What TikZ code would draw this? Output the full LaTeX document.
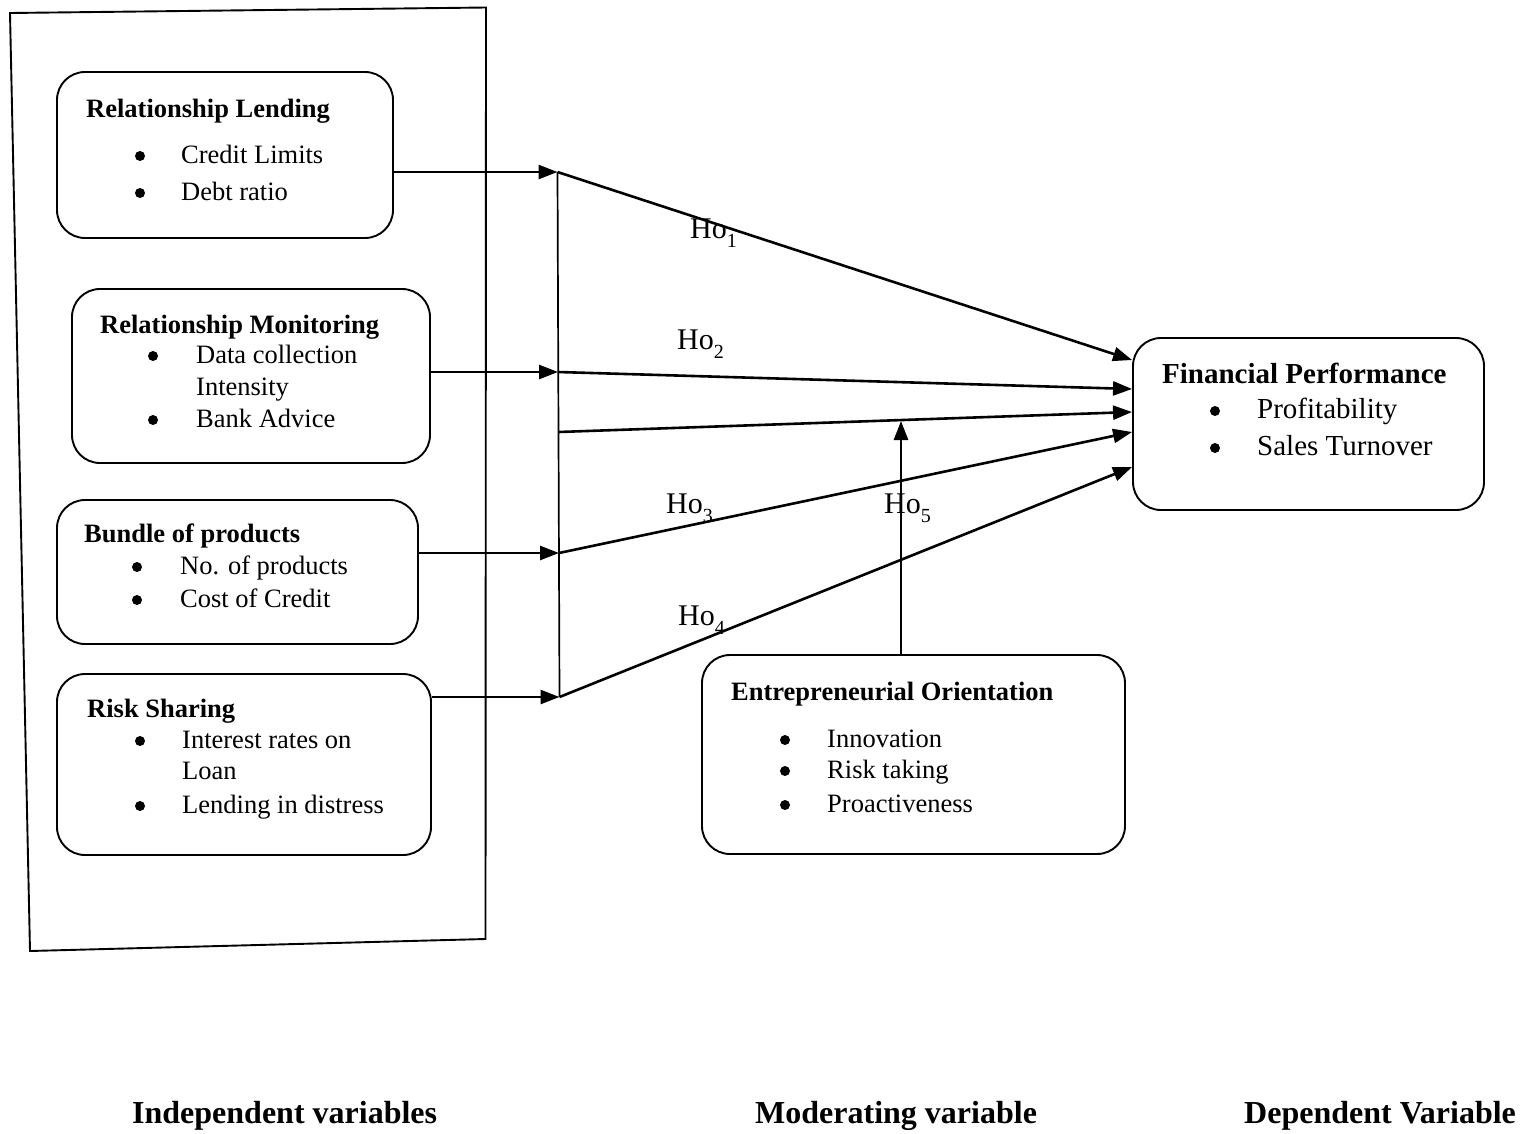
\documentclass[tikz,border=0pt]{standalone}
\usepackage{fontspec}
\setmainfont{Liberation Serif}
\usetikzlibrary{arrows.meta,calc}

\tikzset{
  box/.style={draw, line width=1.9pt, rounded corners=28pt, inner sep=0pt},
  head/.style={anchor=base west, inner sep=0pt, font=\fontsize{26.5}{32}\selectfont\bfseries},
  txt/.style={anchor=base west, inner sep=0pt, font=\fontsize{26.5}{32}\selectfont},
  headbig/.style={anchor=base west, inner sep=0pt, font=\fontsize{29}{35}\selectfont\bfseries},
  txtbig/.style={anchor=base west, inner sep=0pt, font=\fontsize{29}{35}\selectfont},
  hlab/.style={anchor=base west, inner sep=0pt, font=\fontsize{30}{36}\selectfont},
  caption/.style={anchor=base west, inner sep=0pt, font=\fontsize{32}{38}\selectfont\bfseries},
  arr/.style={line width=2.6pt, -{Triangle[length=19pt,width=14pt]}},
  bus/.style={line width=1.7pt},
  frame/.style={line width=1.9pt}
}
\newcommand\hsub[1]{\raisebox{-0.3em}{\fontsize{20}{20}\selectfont #1}}
\newcommand\bdot[2]{\fill (#1,#2-7) circle (5pt);}

\begin{document}
\begin{tikzpicture}[x=1pt,y=-1pt]
\useasboundingbox (0,0) rectangle (1521,1133);

% frame around the independent variables
\draw[frame] (10,13) -- (486,7.5) -- (485.5,939) -- (30,951) -- cycle;

% independent variable boxes
\node[box, minimum width=336pt, minimum height=166pt] (rl) at (225,155) {};
\node[head] (rl-t) at (86,117) {Relationship Lending};
\bdot{140}{163}\node[txt] (rl-a) at (181,163) {Credit Limits};
\bdot{140}{200}\node[txt] (rl-b) at (181,200) {Debt ratio};

\node[box, minimum width=358pt, minimum height=174pt] (rm) at (251,376) {};
\node[head] (rm-t) at (100,333) {Relationship Monitoring};
\bdot{153}{363}\node[txt] (rm-a) at (196,363) {Data collection};
\node[txt] (rm-a2) at (196,395) {Intensity};
\bdot{153}{427}\node[txt] (rm-b) at (196,427) {Bank Advice};

\node[box, minimum width=361pt, minimum height=144pt] (bp) at (237.5,572) {};
\node[head] (bp-t) at (84,542) {Bundle of products};
\bdot{137}{574}\node[txt] (bp-a) at (180,574) {No. of products};
\bdot{137}{607}\node[txt] (bp-b) at (180,607) {Cost of Credit};

\node[box, minimum width=374pt, minimum height=181pt] (rs) at (244,764.5) {};
\node[head] (rs-t) at (87,717) {Risk Sharing};
\bdot{140}{748}\node[txt] (rs-a) at (182,748) {Interest rates on};
\node[txt] (rs-a2) at (182,779) {Loan};
\bdot{140}{813}\node[txt] (rs-b) at (182,813) {Lending in distress};

% dependent variable box
\node[box, minimum width=351pt, minimum height=172pt] (fp) at (1308.5,424) {};
\node[headbig] (fp-t) at (1162,383) {Financial Performance};
\bdot{1215}{418}\node[txtbig] (fp-a) at (1257,418) {Profitability};
\bdot{1215}{455}\node[txtbig] (fp-b) at (1257,455) {Sales Turnover};

% moderating variable box
\node[box, minimum width=423pt, minimum height=199pt] (eo) at (913.5,754.5) {};
\node[head] (eo-t) at (731,700) {Entrepreneurial Orientation};
\bdot{785}{747}\node[txt] (eo-a) at (827,747) {Innovation};
\bdot{785}{778}\node[txt] (eo-b) at (827,778) {Risk taking};
\bdot{785}{812}\node[txt] (eo-c) at (827,812) {Proactiveness};

% hypothesis labels
\node[hlab] (ho1) at (690,238) {Ho\hsub{1}};
\node[hlab] (ho2) at (677,349) {Ho\hsub{2}};
\node[hlab] (ho3) at (666,513) {Ho\hsub{3}};
\node[hlab] (ho4) at (678,625) {Ho\hsub{4}};
\node[hlab] (ho5) at (884,513) {Ho\hsub{5}};

% junctions on the collecting line and arrow tips on the dependent box
\coordinate (j1) at (557.5,172);
\coordinate (j2) at (558,372);
\coordinate (jm) at (558.5,432);
\coordinate (j3) at (559,553);
\coordinate (j4) at (559.5,697);
\coordinate (t1) at ($(fp.west)+(0,-64)$);
\coordinate (t2) at ($(fp.west)+(0,-35)$);
\coordinate (t3) at ($(fp.west)+(0,-12)$);
\coordinate (t4) at ($(fp.west)+(0,8)$);
\coordinate (t5) at ($(fp.west)+(0,43)$);
\coordinate (h5) at (901,421);

\draw[bus] (j1) -- (j4);

\draw[arr] (rl.east |- j1) -- (j1);
\draw[arr] (rm.east |- j2) -- (j2);
\draw[arr] (bp.east |- j3) -- (j3);
\draw[arr] (rs.east |- j4) -- (j4);

\draw[arr] (j1) -- (t1);
\draw[arr] (j2) -- (t2);
\draw[arr] (jm) -- (t3);
\draw[arr] (j3) -- (t4);
\draw[arr] (j4) -- (t5);

\draw[arr] (eo.north -| h5) -- (h5);

% column captions
\node[caption] (cap-iv) at (132,1123) {Independent variables};
\node[caption] (cap-mv) at (755,1123) {Moderating variable};
\node[caption] (cap-dv) at (1244,1123) {Dependent Variable};
\end{tikzpicture}
\end{document}
